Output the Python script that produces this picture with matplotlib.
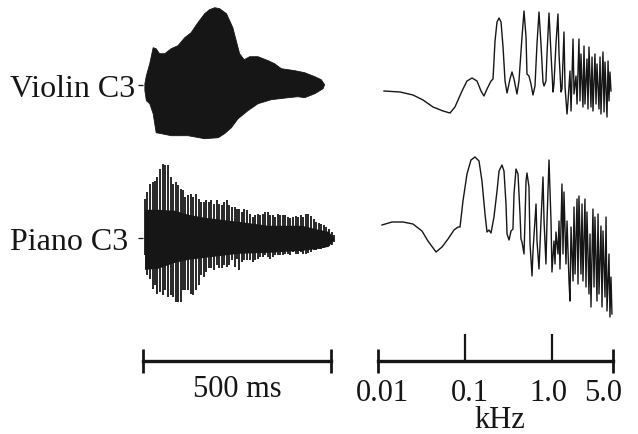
import numpy as np
import matplotlib
matplotlib.use("Agg")
import matplotlib.pyplot as plt
from matplotlib import transforms

plt.rcParams['font.family'] = ['Liberation Serif', 'DejaVu Serif']

# ---------------- data ----------------
row_labels = ["Violin C3", "Piano C3"]

# Violin waveform envelope (time in ms, relative amplitude)
vio_up_t = [5, 9, 18, 27, 35, 44, 58, 75, 93, 111, 128, 146, 164, 177, 191, 204, 222, 239,
            250, 257, 269, 284, 306, 333, 350, 368, 404, 430, 457, 474, 483]
vio_up = [1, 9, 21, 37, 36, 31, 31, 36, 39, 47, 52, 62, 71, 75, 77, 76, 71, 57,
          41, 31, 25, 28, 28, 24, 21, 16, 14, 12, 8, 5, 0]
vio_low_t = [5, 9, 18, 27, 35, 49, 75, 120, 164, 200, 217, 235, 253, 279, 306, 341, 386,
             412, 430, 457, 479, 483]
vio_low = [-6, -16, -19, -29, -48, -49, -51, -51, -54, -53, -49, -43, -34, -26, -19, -15,
           -13, -12, -13, -9, -4, 0]

# Piano waveform: per-period peaks (time in ms, relative amplitude)
pia_t = [4.4, 11.5, 18.6, 25.7, 32.8, 38.1, 45.2, 52.3, 59.4, 66.5, 73.6, 80.7, 86.9, 93.1,
         100.2, 107.3, 112.6, 119.7, 126.8, 133.9, 141, 148.1, 155.2, 161.4, 168.5, 175.6,
         181.8, 188.9, 196, 203.1, 209.3, 216.4, 222.6, 229.7, 236.7, 243.8, 250,
         255.4, 262.5, 269.5, 277.5, 284.6, 291.7, 297.9, 305, 311.2, 318.3, 324.5, 331.6,
         338.7, 344.9, 352, 358.2, 365.3, 372.4, 378.6, 385.7, 391.9, 399, 406.1, 413.2,
         419.4, 426.5, 432.7, 439.8, 446.9, 454, 461.1, 467.3, 474.4, 480.6, 487.7, 494.8,
         501.8, 507.2]
pia_up = [39, 46, 54, 56, 57, 61, 69, 74, 73, 73, 61, 54, 56, 53, 49, 48, 41, 43, 44, 41,
          44, 39, 36, 36, 38, 36, 38, 34, 38, 34, 33, 36, 38, 33, 31, 31, 29,
          29, 26, 29, 28, 24, 21, 23, 24, 23, 24, 26, 26, 23, 23, 21, 24, 23, 23, 23, 21,
          20, 21, 22, 21, 23, 21, 24, 24, 22, 19, 16, 15, 14, 13, 11, 9, 6, 3]
pia_low = [-17, -37, -41, -51, -47, -56, -54, -57, -52, -59, -57, -59, -64, -64, -64, -52,
           -52, -52, -56, -57, -52, -47, -37, -39, -34, -30, -30, -32, -27, -30, -30, -27,
           -29, -27, -22, -29, -21,
           -32, -24, -22, -22, -22, -24, -22, -21, -19, -19, -17, -19, -21, -19, -17, -17,
           -17, -17, -16, -16, -17, -14, -16, -16, -14, -16, -16, -15, -14, -12, -12, -11,
           -11, -10, -9, -8, -7, -4]
pia_core_t = [4, 39, 84, 120, 164, 208, 253, 333, 422, 466, 493, 508]
pia_core_up = [29, 29, 28, 24, 21, 19, 17, 13, 13, 9, 7, 0]
pia_core_low = [-31, -30, -24, -21, -19, -17, -15, -14, -12, -10, -8, 0]

# Spectra: log10(frequency / kHz) and relative level
vio_spec_logf = [-1.931, -1.747, -1.598, -1.483, -1.368, -1.253, -1.173, -1.116, -1.035, -0.978,
                 -0.920, -0.863, -0.817, -0.783, -0.748, -0.702, -0.679, -0.656, -0.633, -0.610,
                 -0.587, -0.564, -0.541, -0.518, -0.484, -0.461, -0.438, -0.404, -0.381, -0.346,
                 -0.323, -0.300, -0.289, -0.266, -0.243, -0.220, -0.197, -0.174, -0.151, -0.128,
                 -0.105, -0.093, -0.071, -0.059, -0.036, -0.013, 0.010, 0.021, 0.044, 0.067,
                 0.079, 0.102, 0.113, 0.136, 0.148, 0.171, 0.182, 0.205, 0.217, 0.240,
                 0.251, 0.274, 0.286, 0.308, 0.320, 0.331, 0.354, 0.366, 0.377, 0.400,
                 0.412, 0.423, 0.446, 0.458, 0.469, 0.492, 0.504, 0.515, 0.538, 0.550,
                 0.561, 0.584, 0.596, 0.607, 0.630, 0.642, 0.653, 0.664, 0.676]
vio_spec_level = [38, 37, 34, 29, 22, 18, 16, 22, 38, 48,
                  51, 48, 38, 33, 40, 48, 50, 88, 107, 111,
                  107, 82, 48, 36, 50, 57, 50, 35, 48, 92,
                  118, 92, 55, 53, 45, 34, 43, 85, 117, 85,
                  47, 43, 48, 75, 116, 75, 37, 45, 85, 115,
                  75, 37, 40, 97, 42, 15, 27, 58, 18, 90,
                  35, 53, 25, 90, 28, 75, 22, 83, 25, 70,
                  20, 82, 22, 72, 18, 75, 25, 65, 20, 72,
                  15, 77, 17, 67, 12, 68, 28, 57, 38]
pia_spec_logf = [-1.954, -1.839, -1.713, -1.598, -1.495, -1.426, -1.334, -1.265, -1.196, -1.127,
                 -1.081, -1.058, -1.024, -0.978, -0.932, -0.886, -0.840, -0.806, -0.771, -0.748,
                 -0.725, -0.702, -0.668, -0.633, -0.610, -0.576, -0.553, -0.530, -0.518, -0.495,
                 -0.472, -0.450, -0.438, -0.415, -0.392, -0.369, -0.358, -0.346, -0.323, -0.312,
                 -0.300, -0.289, -0.266, -0.254, -0.231, -0.220, -0.185, -0.174, -0.151, -0.128,
                 -0.105, -0.093, -0.071, -0.059, -0.036, -0.013, -0.002, 0.021, 0.033, 0.044,
                 0.067, 0.079, 0.090, 0.113, 0.125, 0.136, 0.159, 0.171, 0.194, 0.205,
                 0.217, 0.240, 0.251, 0.263, 0.286, 0.297, 0.308, 0.331, 0.343, 0.354,
                 0.377, 0.389, 0.400, 0.423, 0.435, 0.446, 0.469, 0.481, 0.492, 0.515,
                 0.527, 0.538, 0.561, 0.573, 0.584, 0.607, 0.619, 0.630, 0.653, 0.664,
                 0.676, 0.687]
pia_spec_level = [104, 107, 107, 105, 98, 88, 77, 82, 90, 99,
                  102, 102, 128, 155, 169, 172, 168, 148, 115, 97,
                  99, 96, 112, 138, 158, 164, 158, 125, 95, 89,
                  98, 100, 135, 160, 155, 115, 90, 87, 75, 108,
                  148, 156, 142, 85, 53, 78, 125, 88, 60, 108,
                  152, 108, 65, 108, 169, 108, 57, 88, 65, 97,
                  75, 108, 60, 145, 75, 137, 65, 108, 47, 28,
                  102, 48, 122, 55, 130, 45, 133, 55, 125, 48,
                  130, 42, 117, 35, 95, 22, 120, 42, 112, 28,
                  115, 35, 103, 22, 98, 32, 112, 18, 75, 12,
                  52, 15]

time_bar_ms = 500
time_bar_label = "500 ms"
freq_ticks_major = [0.01, 5.0]
freq_ticks_major_labels = ["0.01", "5.0"]
freq_ticks_minor = [0.1, 1.0]
freq_ticks_minor_labels = ["0.1", "1.0"]
freq_label = "kHz"

# ---------------- layout ----------------
W, H = 638, 435
fig = plt.figure(figsize=(W / 100, H / 100), dpi=100)
INK = '#161616'


def px_axes(left, top, width, height):
    return fig.add_axes([left / W, 1 - (top + height) / H, width / W, height / H])


def clean(ax):
    for s in ax.spines.values():
        s.set_visible(False)
    ax.set_xticks([])
    ax.set_yticks([])
    ax.patch.set_alpha(0)


T_MAX = 520
WAVE_LEFT = 143
WAVE_W = T_MAX * 0.376

# Violin waveform
ax_v = px_axes(WAVE_LEFT, 5.7, WAVE_W, 140)
clean(ax_v)
ax_v.set_xlim(0, T_MAX)
ax_v.set_ylim(-60, 80)
poly_t = np.concatenate([vio_up_t, vio_low_t[::-1]])
poly_a = np.concatenate([vio_up, vio_low[::-1]])
ax_v.fill(poly_t, poly_a, color=INK, lw=0.6)

# Piano waveform
ax_p = px_axes(WAVE_LEFT, 159.3, WAVE_W, 150)
clean(ax_p)
ax_p.set_xlim(0, T_MAX)
ax_p.set_ylim(-70, 80)
ax_p.fill_between(pia_core_t, pia_core_low, pia_core_up, color=INK, lw=0)
ax_p.vlines(pia_t, pia_low, pia_up, color=INK, lw=1.3)

for ax, lab in zip([ax_v, ax_p], row_labels):
    ax.set_yticks([0])
    ax.set_yticklabels([''])
    ax.tick_params(axis='y', length=3.6, width=0.9, color=INK)
    tr = transforms.blended_transform_factory(fig.transFigure, ax.transData)
    tr = transforms.offset_copy(tr, fig=fig, y=-11 * 0.72, units='points')
    ax.text(10 / W, 0, lab, transform=tr, ha='left', va='baseline',
            fontsize=23, color=INK)

# Spectra
FREQ_LEFT, FREQ_W = 378, 235
ax_vs = px_axes(FREQ_LEFT, 0, FREQ_W, 130)
ax_ps = px_axes(FREQ_LEFT, 150, FREQ_W, 180)
for ax, lf, lv, ymax in [(ax_vs, vio_spec_logf, vio_spec_level, 130),
                         (ax_ps, pia_spec_logf, pia_spec_level, 180)]:
    clean(ax)
    ax.set_xscale('log')
    ax.set_xlim(0.01, 5.0)
    ax.set_ylim(0, ymax)
    ax.plot(10 ** np.asarray(lf), lv, color=INK, lw=1.0, solid_joinstyle='round')
    ax.set_xticks([])
    ax.set_xticks([], minor=True)

# Time scale bar
BAR_Y = 362
ax_tb = px_axes(WAVE_LEFT, BAR_Y - 20, WAVE_W, 20)
for k in ['left', 'right', 'top']:
    ax_tb.spines[k].set_visible(False)
ax_tb.patch.set_alpha(0)
ax_tb.set_xlim(0, T_MAX)
ax_tb.set_yticks([])
ax_tb.spines['bottom'].set_bounds(0, time_bar_ms)
ax_tb.spines['bottom'].set_linewidth(2.4)
ax_tb.spines['bottom'].set_color(INK)
ax_tb.set_xticks([0, time_bar_ms])
ax_tb.set_xticklabels(['', ''])
ax_tb.tick_params(axis='x', direction='inout', length=16.8, width=2.0, color=INK)
ax_tb.set_xlabel(time_bar_label, fontsize=22, color=INK)
ax_tb.xaxis.label.set_va('baseline')
ax_tb.xaxis.set_label_coords((time_bar_ms / 2) / T_MAX, -35 / 20)

# Frequency scale bar
ax_fb = px_axes(FREQ_LEFT, BAR_Y - 20, FREQ_W, 20)
for k in ['left', 'right', 'top']:
    ax_fb.spines[k].set_visible(False)
ax_fb.patch.set_alpha(0)
ax_fb.set_xscale('log')
ax_fb.set_xlim(0.01, 5.0)
ax_fb.set_yticks([])
ax_fb.spines['bottom'].set_linewidth(2.4)
ax_fb.spines['bottom'].set_color(INK)
ax_fb.set_xticks(freq_ticks_major)
ax_fb.set_xticklabels(freq_ticks_major_labels)
ax_fb.set_xticks(freq_ticks_minor, minor=True)
ax_fb.set_xticklabels(freq_ticks_minor_labels, minor=True)
ax_fb.tick_params(axis='x', which='major', direction='inout', length=16.8, width=2.0,
                  color=INK, labelsize=22, labelcolor=INK, pad=19.7)
ax_fb.tick_params(axis='x', which='minor', direction='in', length=19.4, width=1.6,
                  color=INK, labelsize=22, labelcolor=INK, pad=28.1)
# small horizontal nudges of the tick labels, as set in the reference
label_shift_px = {"0.01": 4, "0.1": 5, "1.0": -4, "5.0": -10}
for t in ax_fb.get_xticklabels(which='both'):
    t.set_va('baseline')
    dx = label_shift_px.get(t.get_text(), 0)
    t.set_transform(t.get_transform() +
                    transforms.ScaledTranslation(dx / 100, 0, fig.dpi_scale_trans))
ax_fb.set_xlabel(freq_label, fontsize=22, color=INK)
ax_fb.xaxis.label.set_va('baseline')
ax_fb.xaxis.set_label_coords((500 - FREQ_LEFT) / FREQ_W, -66 / 20)

fig.savefig('out.png', dpi=100)
